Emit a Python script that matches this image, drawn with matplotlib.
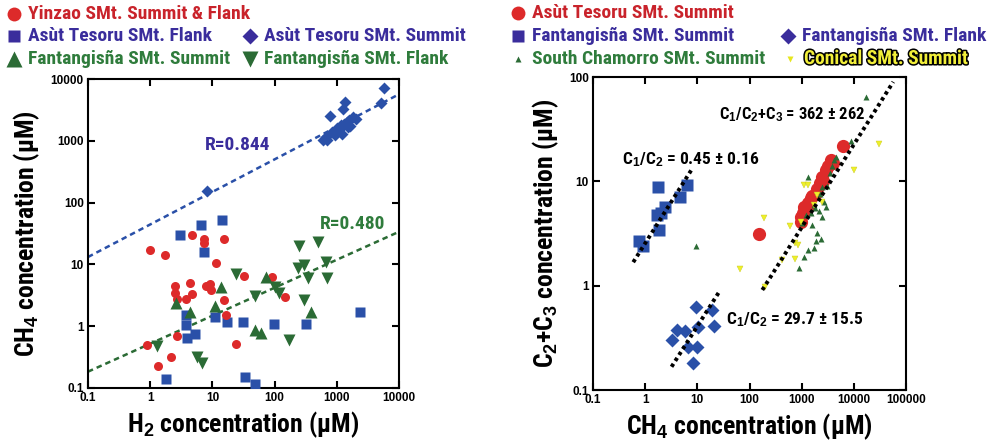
#!/usr/bin/env python3
# -*- coding: utf-8 -*-

import numpy as np
import matplotlib
matplotlib.use('Agg')
import matplotlib.pyplot as plt
from matplotlib.lines import Line2D
import matplotlib.patheffects as pe

COND = ['Liberation Sans Narrow', 'Roboto Condensed', 'DejaVu Sans Condensed', 'Liberation Sans', 'DejaVu Sans']
plt.rcParams['font.family'] = ['Liberation Sans', 'DejaVu Sans']
plt.rcParams['mathtext.fontset'] = 'custom'
plt.rcParams['mathtext.rm'] = 'Liberation Sans:bold'
plt.rcParams['mathtext.default'] = 'rm'

RED = '#dd2a2a'
BLUE = '#2a50a8'
GREEN = '#2b6b35'
YELLOW = '#eef02a'
T_RED = '#c9232b'
T_BLUE = '#3a2d9c'
T_GREEN = '#2f7c3c'

# ---------------- left panel: H2 vs CH4 ----------------
yz_h2 = [1.0, 1.75, 4.7, 7.2, 7.4, 15.6, 11.6, 32, 92, 147, 2.5, 4.3, 2.5, 2.7, 3.7,
         4.7, 8.0, 9.6, 9.0, 15.6, 16.8, 2.7, 0.89, 2.2, 1.36, 24]
yz_ch4 = [17, 14, 30, 26, 22, 26, 10.7, 6.5, 6.3, 3.0, 4.5, 5.1, 3.4, 2.8, 2.8,
          3.3, 4.5, 3.9, 4.8, 2.7, 1.5, 0.69, 0.5, 0.32, 0.23, 0.52]

atf_h2 = [3.0, 6.6, 14.3, 7.4, 3.8, 3.8, 3.9, 5.3, 11.2, 17.3, 31, 1.8, 33, 48, 97, 316, 2400]
atf_ch4 = [30, 43, 52, 16, 1.5, 1.05, 0.64, 0.74, 1.4, 1.16, 1.18, 0.14, 0.15, 0.115, 1.1, 1.08, 1.7]

ats_h2 = [8.2, 590, 665, 780, 852, 1000, 1161, 1240, 1350, 1489, 1578, 1790, 700, 950,
          1100, 1300, 1650, 2000, 5130, 5660, 1200, 1450]
ats_ch4 = [155, 1030, 1164, 2520, 1403, 1600, 1803, 3240, 4200, 1690, 2172, 2450, 1050, 1250,
           1500, 1900, 1750, 2300, 4050, 7080, 1300, 2000]

fs_h2 = [2.6, 4.3, 13.8, 10.9, 72, 48, 60, 390]
fs_ch4 = [2.35, 1.7, 4.3, 2.15, 6.3, 0.87, 0.77, 1.7]

ff_h2 = [24, 48, 100, 117, 1.3, 5.7, 6.8, 170, 250, 500, 240, 300, 680, 340, 690, 300]
ff_ch4 = [7, 3.1, 4.3, 3.4, 0.47, 0.32, 0.25, 0.6, 20, 23, 8.6, 9.8, 11, 6, 6.1, 2.65]

# regression lines, log10(y) = a + b*log10(x)
fit_blue = (1.647, 0.527)
fit_green = (-0.283, 0.453)

# ---------------- right panel: CH4 vs C2+C3 ----------------
ats2_ch4 = [150, 6300, 3700, 2900, 2400, 2270, 1900, 1500, 1300, 1100, 980, 950,
            1200, 1600, 2000, 2600, 3200, 4000, 1050, 1400]
ats2_c23 = [3.1, 22, 16, 13, 11, 9.6, 7.7, 6.9, 6.2, 5.7, 4.6, 4.1,
            5.5, 7.2, 8.5, 10, 14, 15, 5.0, 6.0]

fs2_ch4 = [1.77, 6.2, 4.6, 2.4, 1.65, 1.85, 0.77, 0.89, 2.0]
fs2_c23 = [8.9, 9.2, 7.1, 5.7, 4.8, 3.4, 2.7, 2.4, 5.0]

ff2_ch4 = [9.3, 19, 4.1, 5.7, 10.3, 21, 3.2, 6.6, 10, 8.3]
ff2_c23 = [0.62, 0.58, 0.38, 0.37, 0.4, 0.41, 0.3, 0.26, 0.26, 0.18]

sc_ch4 = [17000, 8800, 4200, 1300, 2400, 2000, 1900, 1750, 1300, 1100, 880, 2700, 2900, 9.6,
          1500, 1700, 2200, 3000, 3500, 1000, 1800, 2500, 2100, 1200, 3800, 4500, 1600, 2300]
sc_c23 = [64, 24.5, 16, 11, 8.9, 3.2, 2.7, 2.3, 2.2, 1.9, 1.47, 6.4, 5.7, 2.4,
          5, 6, 7.5, 9, 12, 4, 5.5, 4.6, 5.2, 4.8, 14, 17, 3.8, 2.8]

con_ch4 = [30000, 10000, 1100, 1300, 186, 585, 730, 840, 730, 420, 195, 2400, 2000, 980, 65, 1700]
con_c23 = [23, 13, 9.2, 9.2, 4.5, 3.7, 2.55, 2.45, 1.8, 1.77, 0.98, 6.4, 7.4, 4.1, 1.44, 6.0]

ratio_lines = {
    'C$_1$/C$_2$ = 0.45 ± 0.16': ([0.59, 7.7], [1.68, 12.9]),
    'C$_1$/C$_2$+C$_3$ = 362 ± 262': ([176, 56900], [0.91, 90]),
    'C$_1$/C$_2$ = 29.7 ± 15.5': ([3.2, 25.7], [0.167, 0.86]),
}

fig = plt.figure(figsize=(9.94, 4.47), dpi=100)
ax1 = fig.add_axes([0.0885, 0.132, 0.3129, 0.691])
ax2 = fig.add_axes([0.5966, 0.1275, 0.3149, 0.700])

HEAVY = 900

# left
ax1.plot(atf_h2, atf_ch4, 's', color=BLUE, ms=6.5, mec='none', zorder=3)
ax1.plot(yz_h2, yz_ch4, 'o', color=RED, ms=6.5, mec='none', zorder=3)
ax1.plot(fs_h2, fs_ch4, '^', color=GREEN, ms=8, mec='none', zorder=3)
ax1.plot(ff_h2, ff_ch4, 'v', color=GREEN, ms=8, mec='none', zorder=3)
ax1.plot(ats_h2, ats_ch4, 'D', color=BLUE, ms=6.5, mec='none', zorder=3)

xx = np.array([0.1, 10000])
for (a, b), c in [(fit_blue, BLUE), (fit_green, GREEN)]:
    ax1.plot(xx, 10 ** (a + b * np.log10(xx)), color=c, lw=1.8, dashes=(2.2, 1.6), zorder=2)

ax1.text(0.48, 0.786, 'R=0.844', transform=ax1.transAxes, color=T_BLUE, fontsize=14,
         family=COND, weight=HEAVY, ha='center', va='center')
ax1.text(0.852, 0.531, 'R=0.480', transform=ax1.transAxes, color=T_GREEN, fontsize=14,
         family=COND, weight=HEAVY, ha='center', va='center')

ax1.set_xlabel('H$_2$ concentration (µM)', fontsize=18.5, family=COND, weight=HEAVY, labelpad=4)
ax1.set_ylabel('CH$_4$ concentration (µM)', fontsize=18.5, family=COND, weight=HEAVY, labelpad=6)

# right
ax2.plot(sc_ch4, sc_c23, '^', color=GREEN, ms=4, mec='none', zorder=3)
ax2.plot(con_ch4, con_c23, 'v', color=YELLOW, ms=4.5, mec='#c8c820', mew=0.3, zorder=3)
ax2.plot(ats2_ch4, ats2_c23, 'o', color=RED, ms=9.5, mec='none', zorder=2)
ax2.plot(fs2_ch4, fs2_c23, 's', color=BLUE, ms=9, mec='none', zorder=2)
ax2.plot(ff2_ch4, ff2_c23, 'D', color=BLUE, ms=7.5, mec='none', zorder=2)

for lab, (lx, ly) in ratio_lines.items():
    ax2.plot(lx, ly, color='black', lw=2.8, dashes=(0.9, 0.9), zorder=4)

ax2.text(0.402, 0.88, 'C$_1$/C$_2$+C$_3$ = 362 ± 262', transform=ax2.transAxes, fontsize=12,
         family=COND, weight=HEAVY, ha='left', va='center')
ax2.text(0.092, 0.735, 'C$_1$/C$_2$ = 0.45 ± 0.16', transform=ax2.transAxes, fontsize=12.5,
         family=COND, weight=HEAVY, ha='left', va='center')
ax2.text(0.425, 0.225, 'C$_1$/C$_2$ = 29.7 ± 15.5', transform=ax2.transAxes, fontsize=12.5,
         family=COND, weight=HEAVY, ha='left', va='center')

ax2.set_xlabel('CH$_4$ concentration (µM)', fontsize=18.5, family=COND, weight=HEAVY, labelpad=4)
ax2.set_ylabel('C$_2$+C$_3$ concentration (µM)', fontsize=18.5, family=COND, weight=HEAVY, labelpad=6)

for ax, xlim, ylim in [(ax1, (0.1, 10000), (0.1, 10000)), (ax2, (0.1, 100000), (0.1, 100))]:
    ax.set_xscale('log')
    ax.set_yscale('log')
    ax.set_xlim(*xlim)
    ax.set_ylim(*ylim)
    ax.minorticks_off()
    ax.xaxis.set_major_formatter(plt.FuncFormatter(lambda v, p: '%g' % v))
    ax.yaxis.set_major_formatter(plt.FuncFormatter(lambda v, p: '%g' % v))
    ax.tick_params(which='major', direction='in', length=5, width=1.5, top=True, right=True,
                   labelsize=8.5, pad=3)
    for lbl in ax.get_xticklabels() + ax.get_yticklabels():
        lbl.set_fontweight('bold')
    for s in ax.spines.values():
        s.set_linewidth(1.5)

# legends
def leg(x, y, marker, color, ms, text, tcolor, outline=False):
    fig.add_artist(Line2D([x / 994], [1 - y / 447], marker=marker, color=color, ms=ms,
                          mec='none', transform=fig.transFigure))
    t = fig.text((x + 14) / 994, 1 - y / 447, text, color=tcolor, fontsize=14,
                 family=COND, weight=HEAVY, va='center', ha='left')
    if outline:
        t.set_path_effects([pe.withStroke(linewidth=2.2, foreground='black')])

leg(14, 14, 'o', RED, 10, 'Yinzao SMt. Summit & Flank', T_RED)
leg(14, 36, 's', T_BLUE, 9, 'Asùt Tesoru SMt. Flank', T_BLUE)
leg(250, 36, 'D', T_BLUE, 8.5, 'Asùt Tesoru SMt. Summit', T_BLUE)
leg(14, 59, '^', GREEN, 11, 'Fantangisña SMt. Summit', T_GREEN)
leg(250, 59, 'v', GREEN, 11, 'Fantangisña SMt. Flank', T_GREEN)

leg(518, 13, 'o', RED, 10, 'Asùt Tesoru SMt. Summit', T_RED)
leg(518, 36, 's', T_BLUE, 9, 'Fantangisña SMt. Summit', T_BLUE)
leg(788, 36, 'D', T_BLUE, 8.5, 'Fantangisña SMt. Flank', T_BLUE)
leg(518, 59, '^', GREEN, 5, 'South Chamorro SMt. Summit', T_GREEN)
leg(790, 59, 'v', '#e6e61e', 5, 'Conical SMt. Summit', '#f2ef3a', outline=True)

plt.savefig('out.png', dpi=100)
